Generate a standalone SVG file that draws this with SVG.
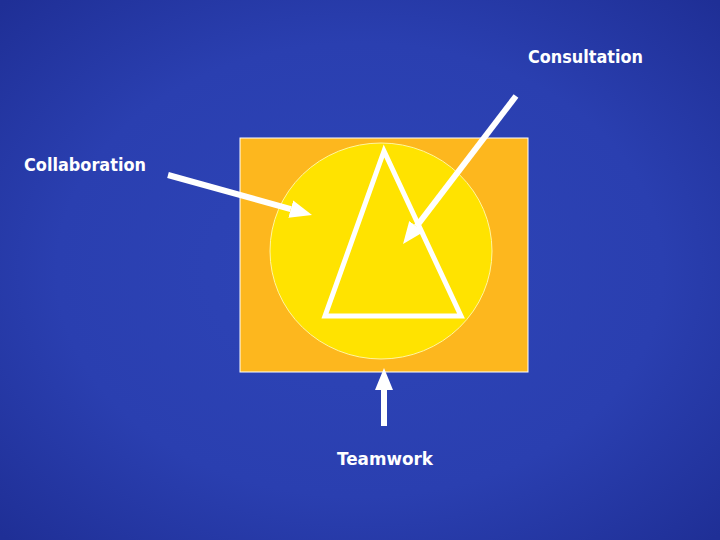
<svg xmlns="http://www.w3.org/2000/svg" width="720" height="540" viewBox="0 0 720 540">
<style>
.lbl{font-family:"DejaVu Sans","Liberation Sans",sans-serif;font-size:17px;font-weight:bold;fill:#ffffff}
.conn{stroke:#ffffff;stroke-width:6;fill:none;marker-end:url(#ah)}
</style>
<defs>
<radialGradient id="bg" cx="50%" cy="50%" r="70%">
<stop offset="0" stop-color="#2e45b8"/>
<stop offset="0.6" stop-color="#2a3fb0"/>
<stop offset="1" stop-color="#1f2f96"/>
</radialGradient>
<marker id="ah" viewBox="0 0 11 9" refX="0" refY="4.5" markerWidth="3.7" markerHeight="3" orient="auto" markerUnits="strokeWidth">
<path d="M0,0 L11,4.5 L0,9 Z" fill="#ffffff"/>
</marker>
</defs>
<rect width="720" height="540" fill="url(#bg)"/>
<g id="square">
<rect x="240" y="138" width="288" height="234" fill="#fdb71e" stroke="#ffffff" stroke-width="1"/>
</g>
<g id="circle">
<ellipse cx="381" cy="251" rx="111" ry="108" fill="#ffe300" stroke="#fff6a0" stroke-width="1"/>
</g>
<g id="triangle">
<polygon points="384,151 325,316 461,316" fill="none" stroke="#ffffff" stroke-width="5" stroke-linejoin="miter"/>
</g>
<g id="connectors">
<line class="conn" x1="168" y1="175" x2="290.8" y2="209.1"/>
<line class="conn" x1="516" y1="96" x2="416.4" y2="226.5"/>
<line class="conn" x1="384" y1="426" x2="384" y2="390"/>
</g>
<g id="consultation"><text class="lbl" x="528" y="63" textLength="115" lengthAdjust="spacingAndGlyphs">Consultation</text></g>
<g id="collaboration"><text class="lbl" x="24" y="171" textLength="122" lengthAdjust="spacingAndGlyphs">Collaboration</text></g>
<g id="teamwork"><text class="lbl" x="337" y="465" textLength="96" lengthAdjust="spacingAndGlyphs">Teamwork</text></g>
</svg>
